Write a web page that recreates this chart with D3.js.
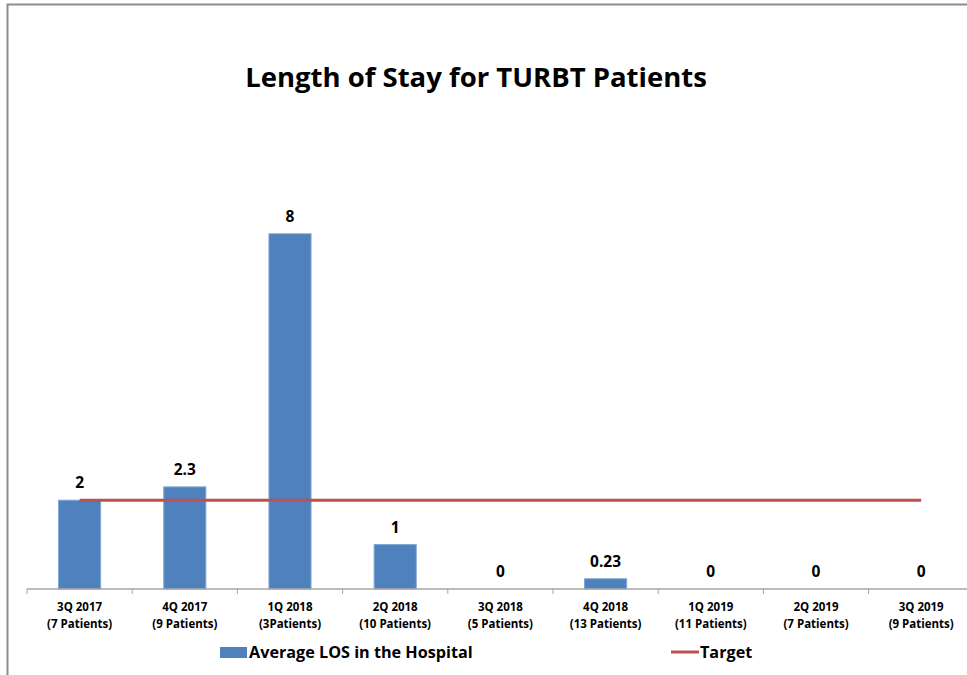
<!DOCTYPE html>
<html>
<head>
<meta charset="utf-8">
<script src="https://cdn.jsdelivr.net/npm/d3@7"></script>
<style>
  body { margin: 0; background: #fff; }
  text { font-family: "Open Sans", Lato, sans-serif; font-weight: bold; fill: #000; }
</style>
</head>
<body>
<div id="viz"></div>
<script>
// data
var quarters = ['3Q 2017', '4Q 2017', '1Q 2018', '2Q 2018', '3Q 2018', '4Q 2018', '1Q 2019', '2Q 2019', '3Q 2019'];
var patients = ['(7 Patients)', '(9 Patients)', '(3Patients)', '(10 Patients)', '(5 Patients)', '(13 Patients)', '(11 Patients)', '(7 Patients)', '(9 Patients)'];
var avgLos = [2, 2.3, 8, 1, 0, 0.23, 0, 0, 0];
var valueLabels = ['2', '2.3', '8', '1', '0', '0.23', '0', '0', '0'];
var target = [2, 2, 2, 2, 2, 2, 2, 2, 2];
var seriesNames = ['Average LOS in the Hospital', 'Target'];

var W = 967, H = 675;
var svg = d3.select('#viz').append('svg')
    .attr('width', W)
    .attr('height', H);

// chart frame (runs off the right/bottom edge)
svg.append('path')
    .attr('d', 'M7.5,' + H + 'V4.5H' + W)
    .style('fill', 'none')
    .style('stroke', '#8c8c8c')
    .style('stroke-width', 2);

// title
svg.append('text')
    .attr('x', 476)
    .attr('y', 87)
    .attr('text-anchor', 'middle')
    .style('font-size', '27.5px')
    .text('Length of Stay for TURBT Patients');

var left = 27, step = 105.2, base = 589;
var x = d3.scaleBand()
    .domain(quarters)
    .range([left, left + step * quarters.length])
    .paddingInner(0.6)
    .paddingOuter(0.3);
var xc = function(d) { return x(d) + x.bandwidth() / 2; };
var y = d3.scaleLinear()
    .domain([0, 9])
    .range([base, base - 9 * 44.4]);

// bars
svg.selectAll('rect.bar')
    .data(avgLos)
    .enter().append('rect')
    .attr('class', 'bar')
    .attr('x', function(d, i) { return x(quarters[i]); })
    .attr('width', x.bandwidth())
    .attr('y', function(d) { return y(d); })
    .attr('height', function(d) { return base - y(d); })
    .style('fill', '#4f81bd')
    .style('stroke', '#7ea6d6')
    .style('stroke-width', 1)
    .style('display', function(d) { return d > 0 ? null : 'none'; });

// value labels
svg.selectAll('text.val')
    .data(avgLos)
    .enter().append('text')
    .attr('class', 'val')
    .attr('x', function(d, i) { return xc(quarters[i]); })
    .attr('y', function(d) { return y(d) - 12; })
    .attr('text-anchor', 'middle')
    .style('font-size', '15.5px')
    .text(function(d, i) { return valueLabels[i]; });

// target line
var line = d3.line()
    .x(function(d, i) { return xc(quarters[i]); })
    .y(function(d) { return y(d); });
svg.append('path')
    .datum(target)
    .attr('d', line)
    .style('fill', 'none')
    .style('stroke', '#c0504d')
    .style('stroke-width', 3);

// x axis
var g = svg.append('g').attr('transform', 'translate(0,' + base + ')');
g.append('line')
    .attr('x1', left).attr('x2', left + step * quarters.length)
    .style('stroke', '#a6a6a6').style('stroke-width', 1.5);
g.selectAll('line.tick')
    .data(d3.range(quarters.length + 1))
    .enter().append('line')
    .attr('class', 'tick')
    .attr('x1', function(i) { return left + i * step; })
    .attr('x2', function(i) { return left + i * step; })
    .attr('y1', 0).attr('y2', 5)
    .style('stroke', '#a6a6a6');
var lab = g.selectAll('text.cat')
    .data(quarters)
    .enter().append('text')
    .attr('class', 'cat')
    .attr('text-anchor', 'middle')
    .style('font-size', '11.5px');
lab.append('tspan')
    .attr('x', xc).attr('y', 22)
    .text(function(d) { return d; });
lab.append('tspan')
    .attr('x', xc).attr('y', 39)
    .text(function(d, i) { return patients[i]; });

// legend
var lg = svg.append('g');
lg.append('rect')
    .attr('x', 220).attr('y', 647).attr('width', 27).attr('height', 11)
    .style('fill', '#4f81bd');
lg.append('text')
    .attr('x', 249).attr('y', 658)
    .style('font-size', '16.2px')
    .text(seriesNames[0]);
lg.append('line')
    .attr('x1', 671).attr('x2', 699).attr('y1', 652).attr('y2', 652)
    .style('stroke', '#c0504d').style('stroke-width', 3);
lg.append('text')
    .attr('x', 700).attr('y', 658)
    .style('font-size', '16.2px')
    .text(seriesNames[1]);
</script>
</body>
</html>
